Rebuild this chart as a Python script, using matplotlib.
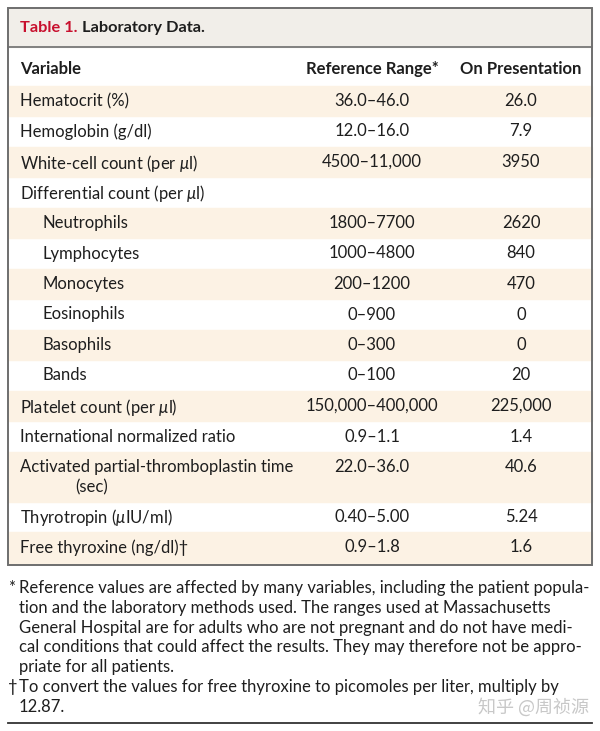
import matplotlib.pyplot as plt
from matplotlib.patches import Rectangle

plt.rcParams['mathtext.fontset'] = 'custom'
plt.rcParams['mathtext.rm'] = 'Lato'
plt.rcParams['mathtext.it'] = 'Lato:italic'

# table data
variables = ["Hematocrit (%)", "Hemoglobin (g/dl)", "White-cell count (per $\\mu$l)",
             "Differential count (per $\\mu$l)", "Neutrophils", "Lymphocytes", "Monocytes",
             "Eosinophils", "Basophils", "Bands", "Platelet count (per $\\mu$l)",
             "International normalized ratio", "Activated partial-thromboplastin time",
             "Thyrotropin ($\\mu$IU/ml)", "Free thyroxine (ng/dl)\u2020"]
ref_ranges = ["36.0\u201346.0", "12.0\u201316.0", "4500\u201311,000", "", "1800\u20137700",
              "1000\u20134800", "200\u20131200", "0\u2013900", "0\u2013300", "0\u2013100",
              "150,000\u2013400,000", "0.9\u20131.1", "22.0\u201336.0", "0.40\u20135.00", "0.9\u20131.8"]
on_presentation = ["26.0", "7.9", "3950", "", "2620", "840", "470", "0", "0", "20",
                   "225,000", "1.4", "40.6", "5.24", "1.6"]
indented = [False, False, False, False, True, True, True, True, True, True,
            False, False, False, False, False]
second_line = {12: "(sec)"}

headers = ["Variable", "Reference Range*", "On Presentation"]
title_num = "Table 1."
title_text = "Laboratory Data."
footnotes = [
    ("*", ["Reference values are affected by many variables, including the patient popula-",
           "tion and the laboratory methods used. The ranges used at Massachusetts",
           "General Hospital are for adults who are not pregnant and do not have medi-",
           "cal conditions that could affect the results. They may therefore not be appro-",
           "priate for all patients."]),
    ("\u2020", ["To convert the values for free thyroxine to picomoles per liter, multiply by",
                "12.87."]),
]

W, H = 600, 731
fig = plt.figure(figsize=(W / 100, H / 100), dpi=100)
ax = fig.add_axes([0, 0, 1, 1])
ax.set_xlim(0, W)
ax.set_ylim(H, 0)
ax.axis("off")

font = "Lato"
fs = 12
txt_col = "#1e1e1e"
beige = "#fcf2e4"
left, right, top = 7.5, 591.5, 7.5
col_ref, col_val = 372, 521
row_h = 30.5

# title band
title_bottom = 47
ax.add_patch(Rectangle((left, top), right - left, title_bottom - top, color="#f1eee9", zorder=0))
ax.plot([left, right], [title_bottom, title_bottom], color="#6e6e6e", lw=1.2)
t1 = ax.text(20, 28, title_num, fontsize=11.8, fontweight="bold", color="#c8102e",
             family=font, va="center")
fig.canvas.draw()
bb = t1.get_window_extent()
x_end = bb.x1
ax.text(x_end + 4, 28, title_text, fontsize=11.8, fontweight="bold", color=txt_col,
        family=font, va="center")

# header row
ax.text(20, 69, headers[0], fontsize=fs, fontweight="bold", color=txt_col, family=font, va="center")
ax.text(col_ref, 69, headers[1], fontsize=fs, fontweight="bold", color=txt_col, family=font,
        va="center", ha="center")
ax.text(col_val, 69, headers[2], fontsize=fs, fontweight="bold", color=txt_col, family=font,
        va="center", ha="center")

# body rows
y = 85.5
for i, name in enumerate(variables):
    h = row_h + (19.5 if i in second_line else 0)
    if i % 2 == 0:
        ax.add_patch(Rectangle((left, y), right - left, h, color=beige, zorder=0))
    yc = y + 14
    x0 = 43 if indented[i] else 20
    ax.text(x0, yc, name, fontsize=fs, color=txt_col, family=font, va="center_baseline")
    ax.text(col_ref, yc, ref_ranges[i], fontsize=fs, color=txt_col, family=font,
            va="center_baseline", ha="center")
    ax.text(col_val, yc, on_presentation[i], fontsize=fs, color=txt_col, family=font,
            va="center_baseline", ha="center")
    if i in second_line:
        ax.text(75, yc + 20.5, second_line[i], fontsize=fs, color=txt_col, family=font,
                va="center_baseline")
    y += h
box_bottom = y + 2

# outer frame
ax.add_patch(Rectangle((left, top), right - left, box_bottom - top, fill=False,
                       edgecolor="#6e6e6e", lw=1.4, zorder=3))

# footnotes
fy = 588
for mark, lines in footnotes:
    ax.text(8, fy, mark, fontsize=fs, color=txt_col, family=font, va="center")
    for ln in lines:
        ax.text(19, fy, ln, fontsize=fs, color=txt_col, family=font, va="center")
        fy += 19.8

ax.text(589, 707, "\u77e5\u4e4e @\u5468\u796f\u6e90", fontsize=13, color="#c8c8c8",
        family=["Noto Sans CJK SC", "DejaVu Sans"], va="center", ha="right")

ax.plot([left, right], [723, 723], color="#333333", lw=1.3)

fig.savefig("out.png", dpi=100)
